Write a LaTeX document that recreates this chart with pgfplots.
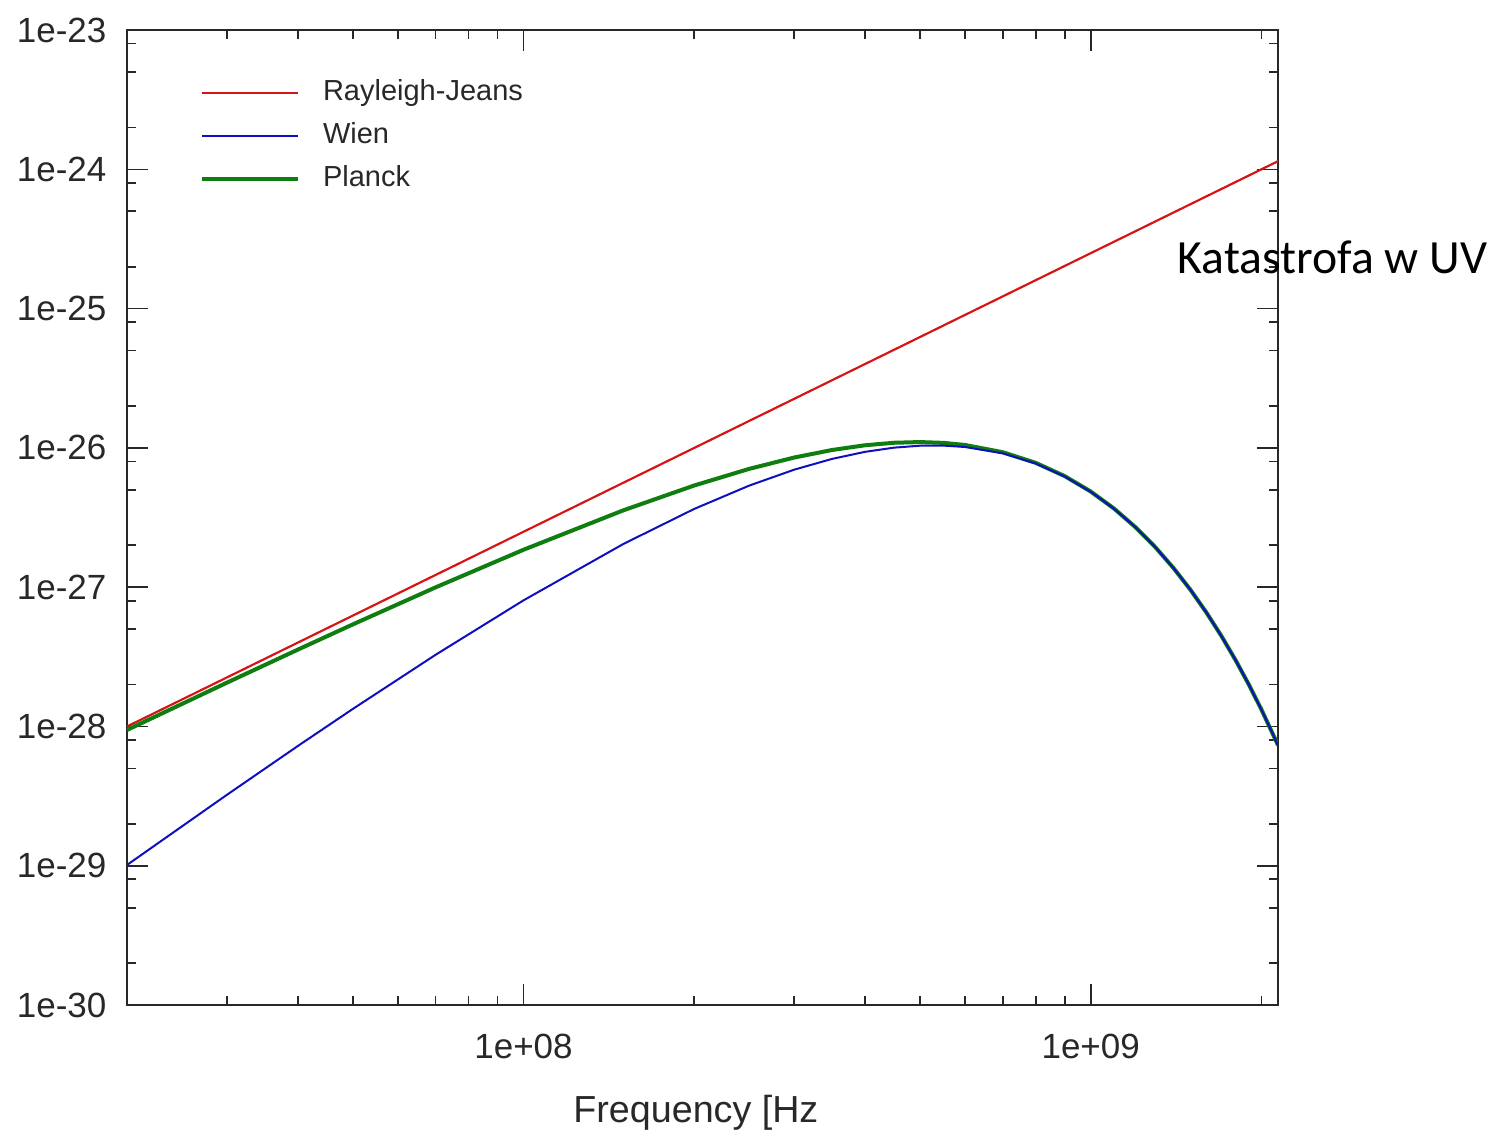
\documentclass[border=0pt]{standalone}
\usepackage{pgfplots}
\pgfplotsset{compat=1.18}
\usepackage{fontspec}
\setmainfont{Liberation Sans}
\newfontfamily\carlito{Carlito}
\definecolor{rjred}{RGB}{215,20,20}
\definecolor{wblue}{RGB}{15,15,190}
\definecolor{pgreen}{RGB}{15,125,15}
\definecolor{axgray}{RGB}{40,40,40}

\pgfplotstableread{
nu      val
2e7     1.0e-28
1e8     2.5e-27
1e9     2.5e-25
2.14e9  1.1449e-24
}\rjtab

\pgfplotstableread{
nu      val
2e7     9.443e-29
3e7     2.064e-28
4e7     3.563e-28
5e7     5.404e-28
7e7     9.975e-28
1e8     1.857e-27
1.5e8   3.565e-27
2e8     5.373e-27
2.5e8   7.073e-27
3e8     8.528e-27
3.5e8   9.662e-27
4e8     1.0447e-26
4.5e8   1.0889e-26
5e8     1.1014e-26
5.5e8   1.0868e-26
6e8     1.0502e-26
7e8     9.311e-27
8e8     7.813e-27
9e8     6.274e-27
1e9     4.865e-27
1.1e9   3.663e-27
1.2e9   2.692e-27
1.3e9   1.939e-27
1.4e9   1.371e-27
1.5e9   9.558e-28
1.6e9   6.573e-28
1.7e9   4.468e-28
1.8e9   3.005e-28
1.9e9   2.003e-28
2e9     1.324e-28
2.14e9  7.323e-29
}\plancktab

\pgfplotstableread{
nu      val
2e7     1.014e-29
3e7     3.233e-29
4e7     7.241e-29
5e7     1.336e-28
7e7     3.273e-28
1e8     8.047e-28
1.5e8   2.044e-27
2e8     3.648e-27
2.5e8   5.363e-27
3e8     6.976e-27
3.5e8   8.339e-27
4e8     9.370e-27
4.5e8   1.0044e-26
5e8     1.0371e-26
5.5e8   1.0390e-26
6e8     1.0155e-26
7e8     9.136e-27
8e8     7.730e-27
9e8     6.236e-27
1e9     4.848e-27
1.1e9   3.656e-27
1.2e9   2.689e-27
1.3e9   1.938e-27
1.4e9   1.371e-27
1.5e9   9.558e-28
1.6e9   6.573e-28
1.7e9   4.468e-28
1.8e9   3.005e-28
1.9e9   2.003e-28
2e9     1.324e-28
2.14e9  7.323e-29
}\wientab

\begin{document}
\begin{tikzpicture}
\begin{axis}[
  at={(0,0)}, anchor=south west,
  scale only axis, width=345.3pt, height=292.5pt,
  xmode=log, ymode=log,
  xmin=2e7, xmax=2.14e9, ymin=1e-30, ymax=1e-23,
  axis line style={axgray, line width=0.6pt},
  every tick/.style={axgray, line width=0.5pt},
  major tick length=6.3pt, minor tick length=2.7pt,
  tick align=inside,
  xtick={1e8,1e9}, xticklabels={1e+08,1e+09},
  minor xtick={3e7,4e7,5e7,6e7,7e7,8e7,9e7,2e8,3e8,4e8,5e8,6e8,7e8,8e8,9e8,2e9},
  ytick={1e-30,1e-29,1e-28,1e-27,1e-26,1e-25,1e-24,1e-23},
  yticklabels={1e-30,1e-29,1e-28,1e-27,1e-26,1e-25,1e-24,1e-23},
  minor ytick={2e-30,5e-30,8e-30,2e-29,5e-29,8e-29,2e-28,5e-28,8e-28,2e-27,5e-27,8e-27,2e-26,5e-26,8e-26,2e-25,5e-25,8e-25,2e-24,5e-24,8e-24},
  tick label style={font=\fontsize{10.5}{12}\selectfont, text=axgray, inner sep=0pt},
  xticklabel style={anchor=base, yshift=-15.9pt},
  yticklabel style={anchor=east, xshift=-6pt},
  xlabel={Frequency [Hz},
  xlabel style={at={(axis description cs:0.5,0)}, anchor=base, yshift=-35.1pt, xshift=-2pt, inner sep=0pt, font=\fontsize{11.3}{13}\selectfont, text=axgray},
  legend image code/.code={\draw[#1] (0pt,0pt) -- (29pt,0pt);},
  legend cell align=left,
  legend style={draw=none, fill=none, at={(axis description cs:0,1)}, anchor=north west,
    xshift=18.6pt, yshift=-12.4pt, font=\fontsize{8.7}{10}\selectfont, text=axgray,
    nodes={inner sep=0pt, text height=6.5pt, text depth=2pt},
    row sep=4.4pt, column sep=6.8pt},
]
\addlegendimage{rjred, line width=0.6pt}
\addlegendentry{Rayleigh-Jeans}
\addlegendimage{wblue, line width=0.6pt}
\addlegendentry{Wien}
\addlegendimage{pgreen, line width=1.2pt}
\addlegendentry{Planck}
\addplot[rjred, line width=0.65pt, forget plot] table[x=nu, y=val] {\rjtab};
\addplot[pgreen, line width=1.2pt, forget plot] table[x=nu, y=val] {\plancktab};
\addplot[wblue, line width=0.6pt, forget plot] table[x=nu, y=val] {\wientab};
\end{axis}
\node[anchor=base west, inner sep=0pt, font=\carlito\fontsize{14.3}{17}\selectfont] at (315pt,219.3pt) {Katastrofa w UV};
\pgfresetboundingbox
\useasboundingbox (-38.1pt,-38.4pt) rectangle (410.4pt,301.5pt);
\end{tikzpicture}
\end{document}
